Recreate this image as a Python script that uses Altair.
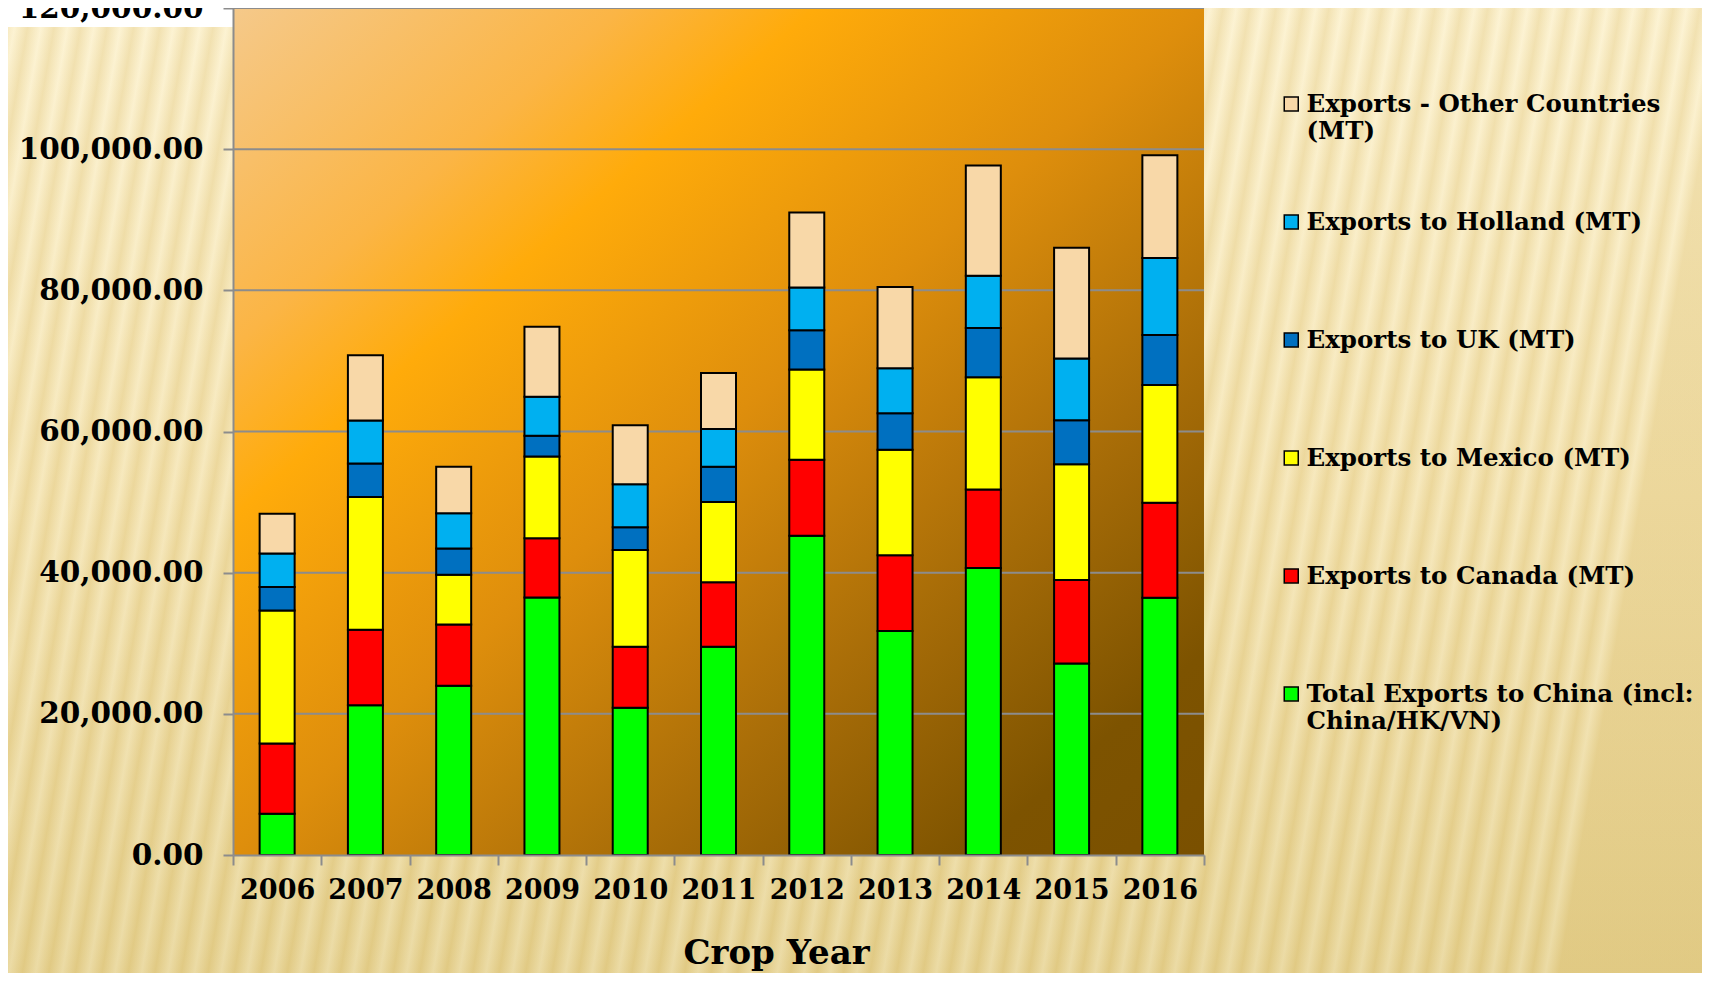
import altair as alt
import pandas as pd

# ---------------- data ----------------
years = ["2006", "2007", "2008", "2009", "2010", "2011", "2012", "2013", "2014", "2015", "2016"]
series = [
    "Total Exports to China (incl: China/HK/VN)",
    "Exports to Canada (MT)",
    "Exports to Mexico (MT)",
    "Exports to UK (MT)",
    "Exports to Holland (MT)",
    "Exports - Other Countries (MT)",
]
china   = [5840, 21210, 23980, 36470, 20860, 29520, 45230, 31720, 40650, 27120, 36450]
canada  = [9970, 10720, 8660, 8410, 8660, 9110, 10760, 10760, 11130, 11850, 13440]
mexico  = [18840, 18790, 7050, 11590, 13700, 11370, 12790, 14920, 15910, 16380, 16700]
uk      = [3330, 4740, 3740, 2920, 3230, 5020, 5560, 5200, 6970, 6250, 7070]
holland = [4740, 6090, 4980, 5540, 6090, 5320, 6060, 6360, 7400, 8730, 10920]
other   = [5640, 9270, 6600, 9920, 8360, 7950, 10640, 11500, 15640, 15700, 14570]
colors  = ["#00ff00", "#ff0000", "#ffff00", "#0070c0", "#00b0f0", "#f8d8a8"]
y_ticks = [0, 20000, 40000, 60000, 80000, 100000, 120000]

rows = []
for k, (name, vals) in enumerate(zip(series, [china, canada, mexico, uk, holland, other])):
    for yr, v in zip(years, vals):
        rows.append({"year": yr, "series": name, "value": v, "ord": k})
df = pd.DataFrame(rows)

# ---------------- style ----------------
W, H = 971, 847
FONT = "DejaVu Serif"
GRAY = "#8c8c8c"
one = pd.DataFrame({"a": [0]})

yscale = alt.Scale(domain=[0, 120000], nice=False, zero=True)
yaxis = alt.Axis(title=None, values=y_ticks, format=",.2f", labelFont=FONT,
                 labelFontWeight="bold", labelFontSize=29.5, labelColor="black",
                 labelLimit=400, labelPadding=20, labelFlush=False, tickColor=GRAY, tickSize=10,
                 tickWidth=2, domainColor=GRAY, domainWidth=2, grid=False, zindex=1)

page_grad = alt.LinearGradient(
    gradient="linear", x1=0, y1=0, x2=0, y2=1,
    stops=[alt.GradientStop(offset=0, color="#fcf0c8"),
           alt.GradientStop(offset=0.5, color="#f4e2aa"),
           alt.GradientStop(offset=1, color="#e5d08a")],
)
n_str = 66
stripe_stops = []
for i in range(n_str):
    stripe_stops.append(alt.GradientStop(offset=i / n_str, color="#ffffff"))
    stripe_stops.append(alt.GradientStop(offset=(i + 0.5) / n_str, color="#cfb066"))
stripe_grad = alt.LinearGradient(gradient="linear", x1=0, y1=0, x2=1, y2=0.1, stops=stripe_stops)

plot_grad = alt.LinearGradient(
    gradient="linear", x1=0, y1=0, x2=1, y2=1,
    stops=[alt.GradientStop(offset=0.0, color="#f5c98a"),
           alt.GradientStop(offset=0.2, color="#fbb545"),
           alt.GradientStop(offset=0.3, color="#ffab0a"),
           alt.GradientStop(offset=0.5, color="#de8e0c"),
           alt.GradientStop(offset=0.7, color="#aa6e08"),
           alt.GradientStop(offset=0.88, color="#7d5300"),
           alt.GradientStop(offset=1.0, color="#7a5000")],
)

page_bg = alt.Chart(one).mark_rect(color=page_grad).encode(
    x=alt.value(-240), x2=alt.value(W + 520), y=alt.value(-10), y2=alt.value(H + 140))
stripes = alt.Chart(one).mark_rect(color=stripe_grad, opacity=0.22).encode(
    x=alt.value(-240), x2=alt.value(W + 520), y=alt.value(-10), y2=alt.value(H + 140))
white_box = alt.Chart(one).mark_rect(color="white").encode(
    x=alt.value(-240), x2=alt.value(0), y=alt.value(-10), y2=alt.value(19))
plot_bg = alt.Chart(one).mark_rect(color=plot_grad).encode(
    x=alt.value(0), x2=alt.value(W), y=alt.value(0), y2=alt.value(H))

grid = alt.Chart(pd.DataFrame({"value": y_ticks[1:]})).mark_rule(color=GRAY, strokeWidth=2).encode(
    y=alt.Y("value:Q", scale=yscale, axis=yaxis))

label_expr = (
    "datum.label == 'Exports - Other Countries (MT)' ? ['Exports - Other Countries', '(MT)'] : "
    "datum.label == 'Total Exports to China (incl: China/HK/VN)' ? ['Total Exports to China (incl:', 'China/HK/VN)'] : "
    "datum.label"
)

bars = alt.Chart(df).mark_bar(size=35, stroke="black", strokeWidth=2, opacity=1).encode(
    x=alt.X("year:N", sort=years,
            scale=alt.Scale(paddingInner=0, paddingOuter=0),
            axis=alt.Axis(title="Crop Year", labelAngle=0, labelFont=FONT, labelFontWeight="bold",
                          labelFontSize=27, labelColor="black", labelPadding=12,
                          tickBand="extent", tickColor=GRAY, tickSize=10, tickWidth=2,
                          domainColor=GRAY, domainWidth=2, grid=False,
                          titleFont=FONT, titleFontWeight="bold", titleFontSize=34, titleColor="black",
                          titleX=543, titleY=108, titleAlign="center", titleBaseline="alphabetic",
                          zindex=1)),
    y=alt.Y("value:Q", stack="zero", scale=yscale, axis=yaxis),
    color=alt.Color("series:N",
                    scale=alt.Scale(domain=series[::-1], range=colors[::-1]),
                    legend=alt.Legend(title=None, orient="none", legendX=1046, legendY=92,
                                      direction="vertical", padding=0,
                                      labelFont=FONT, labelFontWeight="bold", labelFontSize=24.5,
                                      labelColor="black", labelLimit=600, labelOffset=3,
                                      labelBaseline="alphabetic", labelExpr=label_expr,
                                      symbolType="M-1,-2.19L1,-2.19L1,-0.19L-1,-0.19Z",
                                      symbolSize=196, symbolStrokeColor="black",
                                      symbolStrokeWidth=1.5, symbolOpacity=1,
                                      gridAlign="all", rowPadding=66)),
    order=alt.Order("ord:Q", sort="ascending"),
)

chart = alt.layer(page_bg, stripes, white_box, plot_bg, grid, bars).properties(
    width=W, height=H,
    autosize=alt.AutoSizeParams(type="none"),
    padding={"left": 225, "top": 0, "right": 498, "bottom": 118},
).configure(background="#f3e2ab").configure_view(stroke=None)

chart.save("out.html", embed_options={"renderer": "svg", "actions": False})
